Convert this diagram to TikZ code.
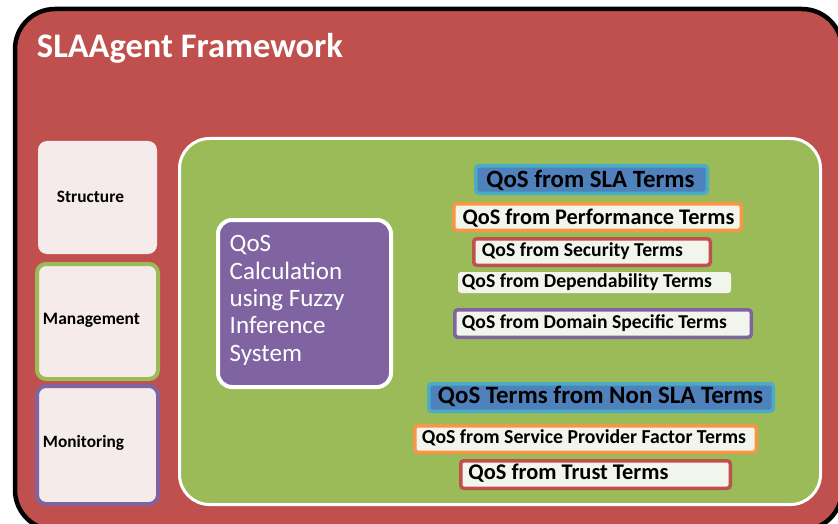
\documentclass[tikz,border=0pt]{standalone}
\usepackage{fontspec}
\setmainfont{Carlito}
\usepackage{graphicx}
\definecolor{cRed}{HTML}{C0504D}
\definecolor{cGreen}{HTML}{9BBB59}
\definecolor{cPurple}{HTML}{8064A2}
\definecolor{cBlue}{HTML}{4F81BD}
\definecolor{cAqua}{HTML}{4BACC6}
\definecolor{cOrange}{HTML}{F79646}
\definecolor{cPale}{HTML}{F2F5EC}
\definecolor{cPink}{HTML}{F5EBEB}
\newcommand{\fitw}[2]{\resizebox{#1pt}{!}{\bfseries #2}}
\tikzset{
  frame/.style={draw=black, fill=cRed, line width=4.5pt, rounded corners=40pt},
  inner/.style={draw=white, fill=cGreen, line width=3pt, rounded corners=30pt},
  sidebox/.style={fill=cPink, rounded corners=9pt, line width=4pt},
  calcbox/.style={draw=white, fill=cPurple, line width=4pt, rounded corners=14pt},
  termbox/.style={fill=cPale, line width=3.5pt, rounded corners=3pt},
  headbox/.style={fill=cBlue, draw=cAqua, line width=3.5pt, rounded corners=3pt},
  txt/.style={inner sep=0pt, text=black},
}
\begin{document}
\begin{tikzpicture}[x=1pt,y=-1pt]
\useasboundingbox (0,0) rectangle (838,524);
\clip (0,0) rectangle (838,524);
% outer frame
\node[frame, minimum width=827pt, minimum height=521pt] (outer) at (428.5,269.5) {};
\node[inner sep=0pt, text=white] (title) at (190,48) {\fitw{306}{SLAAgent Framework}};
% green area
\node[inner, minimum width=641pt, minimum height=366pt] (area) at (500,321.5) {};
% left boxes
\node[sidebox, minimum width=119pt, minimum height=113pt] (structure) at (97.5,197.5) {};
\node[sidebox, draw=cGreen, minimum width=121pt, minimum height=115pt] (management) at (97.5,321.5) {};
\node[sidebox, draw=cPurple, minimum width=121pt, minimum height=118pt] (monitoring) at (97.5,445) {};
\node[txt] (tstructure) at (90.5,197) {\fitw{67}{Structure}};
\node[txt] (tmanagement) at (91.5,320) {\fitw{97}{Management}};
\node[txt] (tmonitoring) at (83.5,443) {\fitw{81}{Monitoring}};
% purple calculation box
\node[calcbox, minimum width=173pt, minimum height=167pt] (calc) at (304.5,303.5) {};
\node[inner sep=0pt, text=white, anchor=north west, align=left,
      font=\fontsize{25}{27.3}\selectfont] (tcalc) at (229.5,235.5)
  {QoS\\Calculation\\using Fuzzy\\Inference\\System};
% right term boxes
\node[headbox, minimum width=231.5pt, minimum height=27.5pt] (sla) at (591.5,179.5) {};
\node[txt] (tsla) at (590.5,180) {\fitw{208}{QoS from SLA Terms}};
\node[termbox, draw=cOrange, minimum width=287.5pt, minimum height=26.5pt] (perf) at (597.5,217) {};
\node[txt] (tperf) at (598.5,218) {\fitw{272}{QoS from Performance Terms}};
\node[termbox, draw=cRed, minimum width=236.5pt, minimum height=26.5pt] (sec) at (592,252) {};
\node[txt] (tsec) at (582.5,251) {\fitw{201}{QoS from Security Terms}};
\node[termbox, minimum width=273pt, minimum height=21pt] (dep) at (594.5,282.5) {};
\node[txt] (tdep) at (587,282) {\fitw{250}{QoS from Dependability Terms}};
\node[termbox, draw=cPurple, minimum width=296.5pt, minimum height=27.5pt] (dom) at (603,323.5) {};
\node[txt] (tdom) at (594.5,323) {\fitw{265}{QoS from Domain Specific Terms}};
\node[headbox, minimum width=344.5pt, minimum height=27.5pt] (nonsla) at (601,397.5) {};
\node[txt] (tnonsla) at (600.5,396) {\fitw{325}{QoS Terms from Non SLA Terms}};
\node[termbox, draw=cOrange, minimum width=341.5pt, minimum height=26.5pt] (spf) at (585.5,439) {};
\node[txt] (tspf) at (584,438) {\fitw{324}{QoS from Service Provider Factor Terms}};
\node[termbox, draw=cRed, minimum width=269.5pt, minimum height=27.5pt] (trust) at (595.5,474.5) {};
\node[txt] (ttrust) at (568.5,473) {\fitw{200}{QoS from Trust Terms}};
\end{tikzpicture}
\end{document}
